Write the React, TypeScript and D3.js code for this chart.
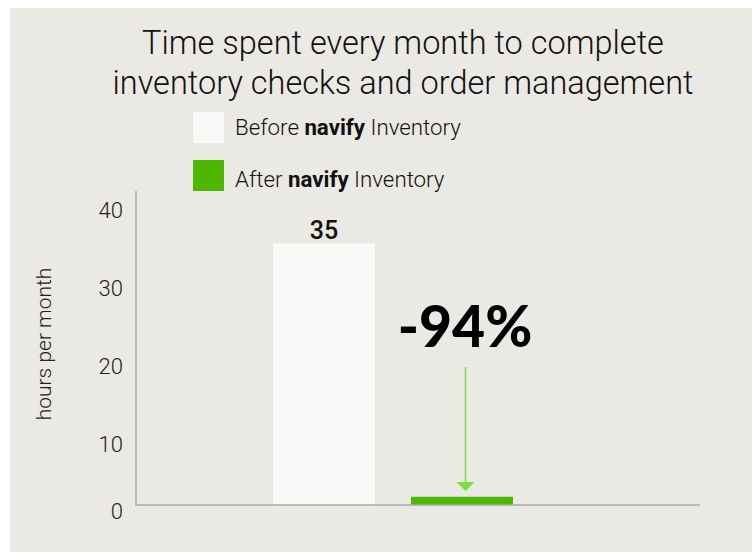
import React from "react";
import * as d3 from "d3";

const categories = ["Before", "After"];
const values = [35, 1.1];
const barLabels = ["35", ""];
const yTicks = [0, 10, 20, 30, 40];
const titleLines = ["Time spent every month to complete", "inventory checks and order management"];
const legendItems = [
  { pre: "Before ", bold: "navify", post: " Inventory" },
  { pre: "After ", bold: "navify", post: " Inventory" },
];
const changeLabel = "-94%";
const yAxisTitle = "hours per month";

const W = 752;
const H = 552;
const colors = ["#f9f9f8", "#4cb800"];
const FONT = "Roboto, 'Noto Sans', sans-serif";

export default function App() {
  const x = d3
    .scaleBand<string>()
    .domain(categories)
    .range([255, 531])
    .paddingInner(36 / 138)
    .paddingOuter(18 / 138);
  const y = d3.scaleLinear().domain([0, 40]).range([505, 206]);
  // tick labels sit on their own (slightly offset) positions
  const yLabel = d3.scaleLinear().domain([0, 10, 40]).range([511, 444, 210]);

  return (
    <div style={{ position: "absolute", left: 0, top: 0 }}>
      <svg width={W} height={H} style={{ display: "block" }}>
        <rect x={0} y={0} width={W} height={H} fill="#ffffff" />
        <rect x={10} y={8} width={W - 10} height={H - 8} fill="#ebe9e4" />

        {titleLines.map((t, i) => (
          <text
            key={i}
            x={403}
            y={54 + i * 40}
            textAnchor="middle"
            fontFamily={FONT}
            fontWeight={300}
            fontSize={32.5}
            fill="#111"
          >
            {t}
          </text>
        ))}

        {legendItems.map((d, i) => (
          <g key={i} transform={`translate(193, ${112 + i * 48})`}>
            <rect width={31} height={31} fill={colors[i]} />
            <text x={42} y={i === 0 ? 23 : 27} fontFamily={FONT} fontWeight={300} fontSize={22.3} fill="#111">
              {d.pre}
              <tspan fontWeight={700}>{d.bold}</tspan>
              {d.post}
            </text>
          </g>
        ))}

        {/* bars */}
        {categories.map((c, i) => (
          <rect
            key={c}
            x={x(c)}
            y={y(values[i])}
            width={x.bandwidth()}
            height={y(0) - y(values[i])}
            fill={colors[i]}
          />
        ))}
        {categories.map((c, i) =>
          barLabels[i] ? (
            <text
              key={"l" + c}
              x={(x(c) as number) + x.bandwidth() / 2}
              y={y(values[i]) - 4}
              textAnchor="middle"
              fontFamily={FONT}
              fontWeight={500}
              fontSize={25}
              fill="#111"
            >
              {barLabels[i]}
            </text>
          ) : null
        )}

        {/* axes */}
        <line x1={136} x2={136} y1={191} y2={y(0)} stroke="#a8a8a8" strokeWidth={1.5} />
        <line x1={135.25} x2={700} y1={y(0)} y2={y(0)} stroke="#a8a8a8" strokeWidth={1.5} />
        {yTicks.map((t) => (
          <text
            key={t}
            x={123}
            y={yLabel(t)}
            dy="0.36em"
            textAnchor="end"
            fontFamily={FONT}
            fontWeight={300}
            fontSize={22}
            fill="#222"
          >
            {t}
          </text>
        ))}
        <text
          transform={`translate(51, 344) rotate(-90)`}
          textAnchor="middle"
          fontFamily={FONT}
          fontWeight={300}
          fontSize={21}
          fill="#222"
        >
          {yAxisTitle}
        </text>

        {/* change annotation */}
        <text
          x={465}
          y={347}
          textAnchor="middle"
          fontFamily="Lato, 'Open Sans', sans-serif"
          fontWeight={900}
          fontSize={57}
          fill="#000"
        >
          {changeLabel}
        </text>
        <line x1={465.5} x2={465.5} y1={367} y2={483} stroke="#7be03a" strokeWidth={1.5} />
        <path d={`M${465.5 - 9},482 L${465.5 + 9},482 L465.5,491 Z`} fill="#7be03a" />
      </svg>
    </div>
  );
}
